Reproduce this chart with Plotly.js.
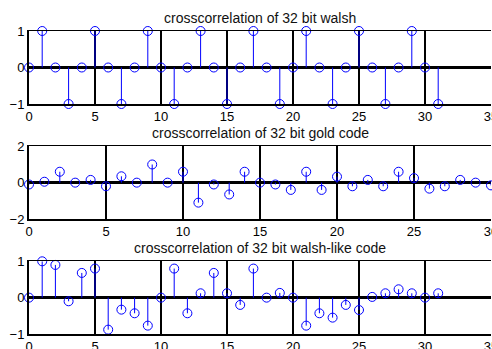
<!DOCTYPE html>
<html>
<head>
<meta charset="utf-8">
<script src="https://cdn.plot.ly/plotly-3.0.1.min.js"></script>
<style>
html,body{margin:0;padding:0;overflow:hidden;background:#fff;}
#chart{width:492px;height:349px;}
</style>
</head>
<body>
<div id="chart"></div>
<script>
// ---- data ----
var lags = [0,1,2,3,4,5,6,7,8,9,10,11,12,13,14,15,16,17,18,19,20,21,22,23,24,25,26,27,28,29,30,31];
var walsh = [0,1,0,-1,0,1,0,-1,0,1,0,-1,0,1,0,-1,0,1,0,-1,0,1,0,-1,0,1,0,-1,0,1,0,-1];
var gold = [-0.1,0.05,0.6,0,0.15,-0.2,0.35,0,1.0,0,0.6,-1.1,-0.1,-0.65,0.6,0,-0.1,-0.4,0.6,-0.4,0.33,-0.2,0.15,-0.2,0.6,0.25,-0.33,-0.2,0.15,0,-0.15,0.1];
var walshLike = [0,1.0,0.9,-0.1,0.68,0.8,-0.88,-0.33,-0.43,-0.77,0,0.8,-0.43,0.12,0.68,0.12,-0.2,0.8,0,0.13,0,-0.77,-0.43,-0.55,-0.2,-0.34,0.02,0.12,0.23,0.12,0,0.12];
var titles = ["crosscorrelation of 32 bit walsh","crosscorrelation of 32 bit gold code","crosscorrelation of 32 bit walsh-like code"];

var series = [walsh, gold, walshLike];
var blue = '#0000ff';
var traces = [];
series.forEach(function(vals, i){
  var sx = [], sy = [];
  for (var k = 0; k < lags.length; k++){ sx.push(lags[k], lags[k], null); sy.push(0, vals[k], null); }
  var xa = i === 0 ? 'x' : 'x' + (i+1);
  var ya = i === 0 ? 'y' : 'y' + (i+1);
  traces.push({x: sx, y: sy, xaxis: xa, yaxis: ya, mode: 'lines', line: {color: blue, width: 1}, hoverinfo: 'skip', showlegend: false, cliponaxis: true});
  traces.push({x: lags, y: vals, xaxis: xa, yaxis: ya, mode: 'markers', marker: {symbol: 'circle-open', size: 9, color: blue, line: {width: 1, color: blue}}, showlegend: false, cliponaxis: false});
});

var H = 349;
var boxes = [[31,104],[146.3,219],[261.3,334]];
var xranges = [[0,35],[0,30],[0,35]];
var yranges = [[-1,1],[-2,2],[-1,1]];
var ydt = [1,2,1];
var font = {family: 'Liberation Sans, Arial, sans-serif', size: 13, color: '#000'};

var layout = {
  width: 492, height: 349,
  margin: {l: 29, r: 1, t: 0, b: 0},
  paper_bgcolor: '#fff', plot_bgcolor: '#fff',
  showlegend: false,
  font: font,
  annotations: []
};
for (var i = 0; i < 3; i++){
  var sfx = i === 0 ? '' : String(i+1);
  var dom = [1 - boxes[i][1]/H, 1 - boxes[i][0]/H];
  layout['xaxis' + sfx] = {
    domain: [0,1], range: xranges[i], dtick: 5, tick0: 0,
    anchor: 'y' + sfx,
    showgrid: true, gridcolor: '#000', gridwidth: 1.3,
    zeroline: false,
    showline: true, linecolor: '#000', linewidth: 1.5, mirror: true,
    ticks: '', tickfont: font, ticklabeloverflow: 'allow', fixedrange: true
  };
  layout['yaxis' + sfx] = {
    domain: dom, range: yranges[i], dtick: ydt[i], tick0: 0,
    anchor: 'x' + sfx,
    showgrid: true, gridcolor: '#000', gridwidth: 1.3,
    zeroline: true, zerolinecolor: '#000', zerolinewidth: 2.5,
    showline: true, linecolor: '#000', linewidth: 2,
    ticks: '', tickfont: font, fixedrange: true
  };
  layout.annotations.push({
    text: titles[i], xref: 'x' + sfx + ' domain', yref: 'y' + sfx + ' domain',
    x: 0.5, y: 1, xanchor: 'center', yanchor: 'bottom', yshift: 3,
    showarrow: false, font: {family: 'Liberation Sans, Arial, sans-serif', size: 14, color: '#111'}
  });
}

Plotly.newPlot('chart', traces, layout, {displayModeBar: false, staticPlot: true});
</script>
</body>
</html>
